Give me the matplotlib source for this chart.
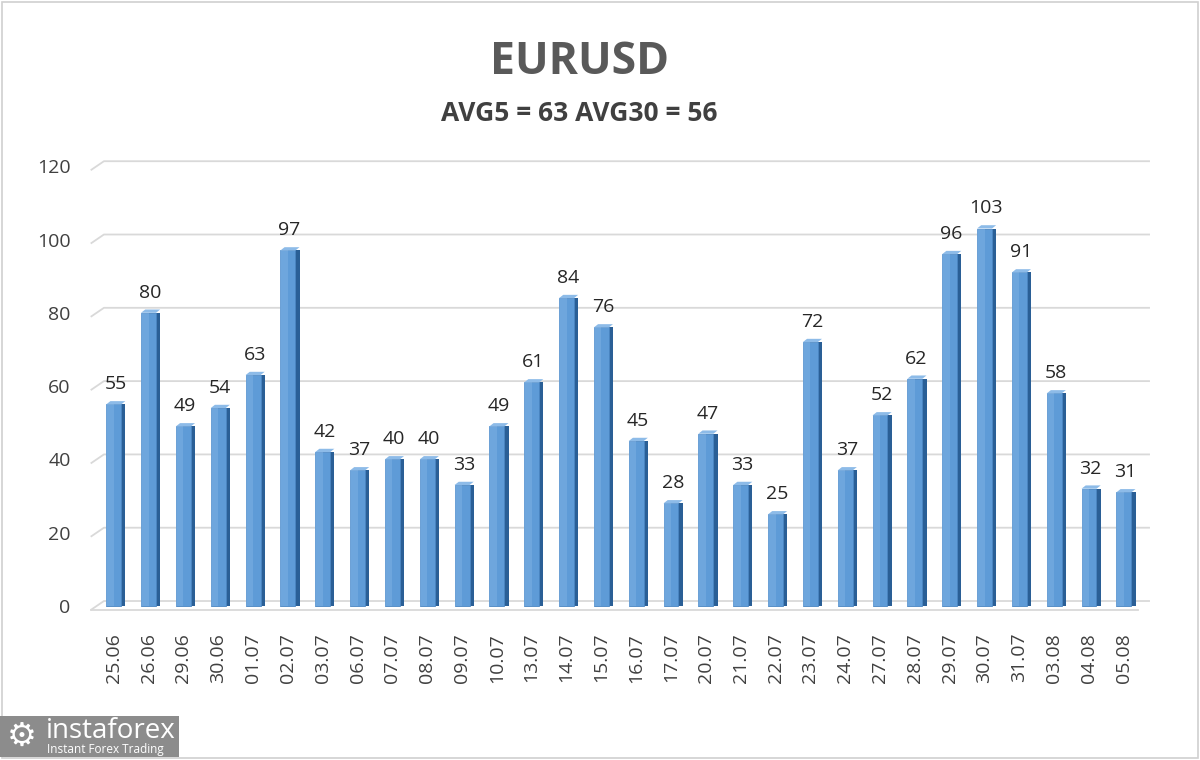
import matplotlib
matplotlib.use("Agg")
import matplotlib.pyplot as plt
from matplotlib.patches import Rectangle, Polygon

dates = ["25.06", "26.06", "29.06", "30.06", "01.07", "02.07", "03.07", "06.07", "07.07", "08.07",
         "09.07", "10.07", "13.07", "14.07", "15.07", "16.07", "17.07", "20.07", "21.07", "22.07",
         "23.07", "24.07", "27.07", "28.07", "29.07", "30.07", "31.07", "03.08", "04.08", "05.08"]
values = [55, 80, 49, 54, 63, 97, 42, 37, 40, 40,
          33, 49, 61, 84, 76, 45, 28, 47, 33, 25,
          72, 37, 52, 62, 96, 103, 91, 58, 32, 31]
title = "EURUSD"
subtitle = "AVG5 = 63 AVG30 = 56"
yticks = [0, 20, 40, 60, 80, 100, 120]

plt.rcParams['font.family'] = ['Open Sans', 'DejaVu Sans']

fig = plt.figure(figsize=(12, 7.6), dpi=100)
fig.patch.set_facecolor("white")
fig.add_artist(Rectangle((0.002, 0.002), 0.996, 0.996, transform=fig.transFigure,
                         fill=False, edgecolor="#d0d0d0", linewidth=1.2))

ymin, ymax = -2.0, 123.5
px_per_unit = 73.3 / 20.0
bottom_px = 606 + (-ymin) * px_per_unit
height_px = (ymax - ymin) * px_per_unit
ax = fig.add_axes([0.075, 1 - bottom_px / 760, 0.8833, height_px / 760])
x = list(range(len(values)))
w = 0.43
side = 0.12
back = 1.36    # back wall offset of gridlines (value units)
front = -1.1   # front edge of the floor / side wall (value units)
x_wall0 = -0.66
x_wall1 = -0.28
x_right = 29.75
x_front_end = 29.4

# gridlines on back wall with short diagonal on the left side wall
for t in yticks:
    ax.plot([x_wall0, x_wall1, x_right], [t + front, t + back, t + back], color="#d9d9d9",
            linewidth=1.3, zorder=0, solid_capstyle="butt")
# floor front edge
ax.plot([x_wall0, x_front_end], [front, front], color="#d9d9d9", linewidth=1.3, zorder=1)

# side faces (darker)
ax.bar([i + w / 2 + side / 2 for i in x], values, width=side, color="#2a5f96",
       edgecolor="none", zorder=2)
# front faces
ax.bar(x, values, width=w, color="#5e9bd7", edgecolor="#4a86c2", linewidth=0.6, zorder=3)
ax.bar([i - w / 4 for i in x], values, width=w / 2, color="#7db0e2", edgecolor="none",
       zorder=3, alpha=0.55)
# top caps
for i, v in zip(x, values):
    ax.add_patch(Polygon([(i - w / 2, v), (i + w / 2, v), (i + w / 2 + side, v + 0.9),
                          (i - w / 2 + side, v + 0.9)], closed=True,
                         facecolor="#8dbbe8", edgecolor="none", zorder=4))

for i, v in zip(x, values):
    ax.annotate(str(v), (i + 0.05, v), xytext=(0, 8), textcoords="offset points",
                ha="center", va="bottom", fontsize=14, color="#262626")

ax.set_xlim(-0.68, x_right)
ax.set_ylim(ymin, ymax)
ax.set_yticks(yticks)
ax.set_yticklabels([str(t) for t in yticks], fontsize=14, color="#404040")
ax.set_xticks(x)
ax.set_xticklabels(dates, rotation=90, fontsize=14, color="#404040")
ax.tick_params(axis="both", length=0)
ax.tick_params(axis="y", pad=14)
ax.tick_params(axis="x", pad=14)
for s in ax.spines.values():
    s.set_visible(False)

fig.text(0.483, 0.918, title, ha="center", va="center", fontsize=32, fontweight="bold",
         color="#595959")
fig.text(0.483, 0.851, subtitle, ha="center", va="center", fontsize=19, fontweight="bold",
         color="#404040")

# logo
fig.add_artist(Rectangle((0.0, 0.004), 0.149, 0.054, transform=fig.transFigure,
                         facecolor="#8c8c8c", edgecolor="none"))
fig.text(0.006, 0.031, "\u2699", fontsize=24, color="white", va="center", ha="left",
         family="DejaVu Sans")
fig.text(0.038, 0.038, "instaforex", fontsize=20, color="white", va="center", ha="left")
fig.text(0.039, 0.0135, "Instant Forex Trading", fontsize=8.5, color="white", va="center",
         ha="left")

fig.savefig("out.png", dpi=100)
